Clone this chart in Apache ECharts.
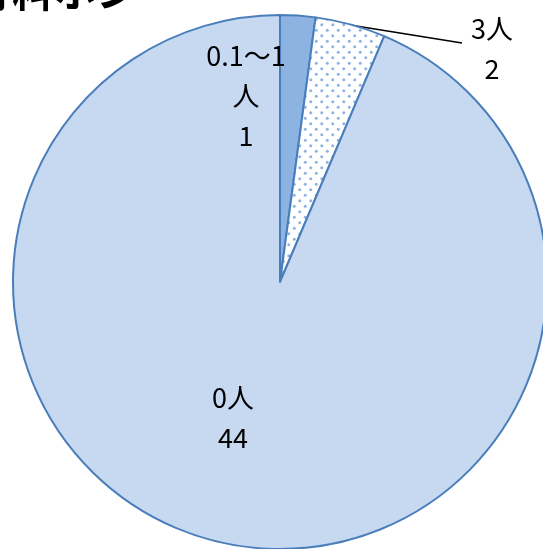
<!DOCTYPE html>
<html><head><meta charset="utf-8">
<script src="https://cdn.jsdelivr.net/npm/echarts@6/dist/echarts.min.js"></script>
<style>html,body{margin:0;padding:0;background:#fff}#c{width:543px;height:549px}</style>
</head><body><div id="c"></div>
<script>
const categories = ['0.1～1人', '3人', '0人'];
const values = [1, 2, 44];
const titleText = '育料ホン';

const dot = document.createElement('canvas');
dot.width = 11; dot.height = 11;
(function(){
  const g = dot.getContext('2d');
  g.fillStyle = '#ffffff'; g.fillRect(0,0,11,11);
  g.fillStyle = '#8DB3E2';
  [[2.75,2.75],[8.25,8.25]].forEach(p=>{g.beginPath();g.arc(p[0],p[1],1.5,0,Math.PI*2);g.fill();});
})();

const colors = ['#8DB3E2', {image: dot, repeat: 'repeat'}, '#C6D9F1'];
const labelSpots = [
  {x: 246, y: 96, line: null},
  {x: 492, y: 49, line: [[350, 25], [462, 43]]},
  {x: 233, y: 418, line: null}
];

const chart = echarts.init(document.getElementById('c'));
chart.setOption({
  animation: false,
  graphic: [{
    type: 'text', left: -30, top: -30,
    style: {text: titleText, font: 'bold 42px "Noto Sans CJK JP"', fill: '#000', letterSpacing: 6}
  }],
  series: [{
    type: 'pie',
    center: [280, 282],
    radius: 267,
    startAngle: 90,
    clockwise: true,
    data: categories.map((c, i) => ({name: c, value: values[i], itemStyle: {color: colors[i]}})),
    itemStyle: {borderColor: '#4A7EBB', borderWidth: 2},
    label: {
      show: true,
      position: 'outside',
      formatter: p => p.dataIndex === 0 ? '0.1～1\n人\n' + p.value : p.name + '\n' + p.value,
      color: '#000',
      fontSize: 27,
      lineHeight: 40,
      fontFamily: '"Noto Sans CJK JP", sans-serif',
      align: 'center',
      overflow: 'none'
    },
    labelLine: {show: true, lineStyle: {color: '#000', width: 1.6}, length: 10, length2: 10},
    emphasis: {disabled: true},
    labelLayout: function (params) {
      const s = labelSpots[params.dataIndex];
      const r = {x: s.x, y: s.y, align: 'center', verticalAlign: 'middle'};
      r.labelLinePoints = s.line ? s.line : [[0,0],[0,0]];
      return r;
    }
  }]
});
</script></body></html>
